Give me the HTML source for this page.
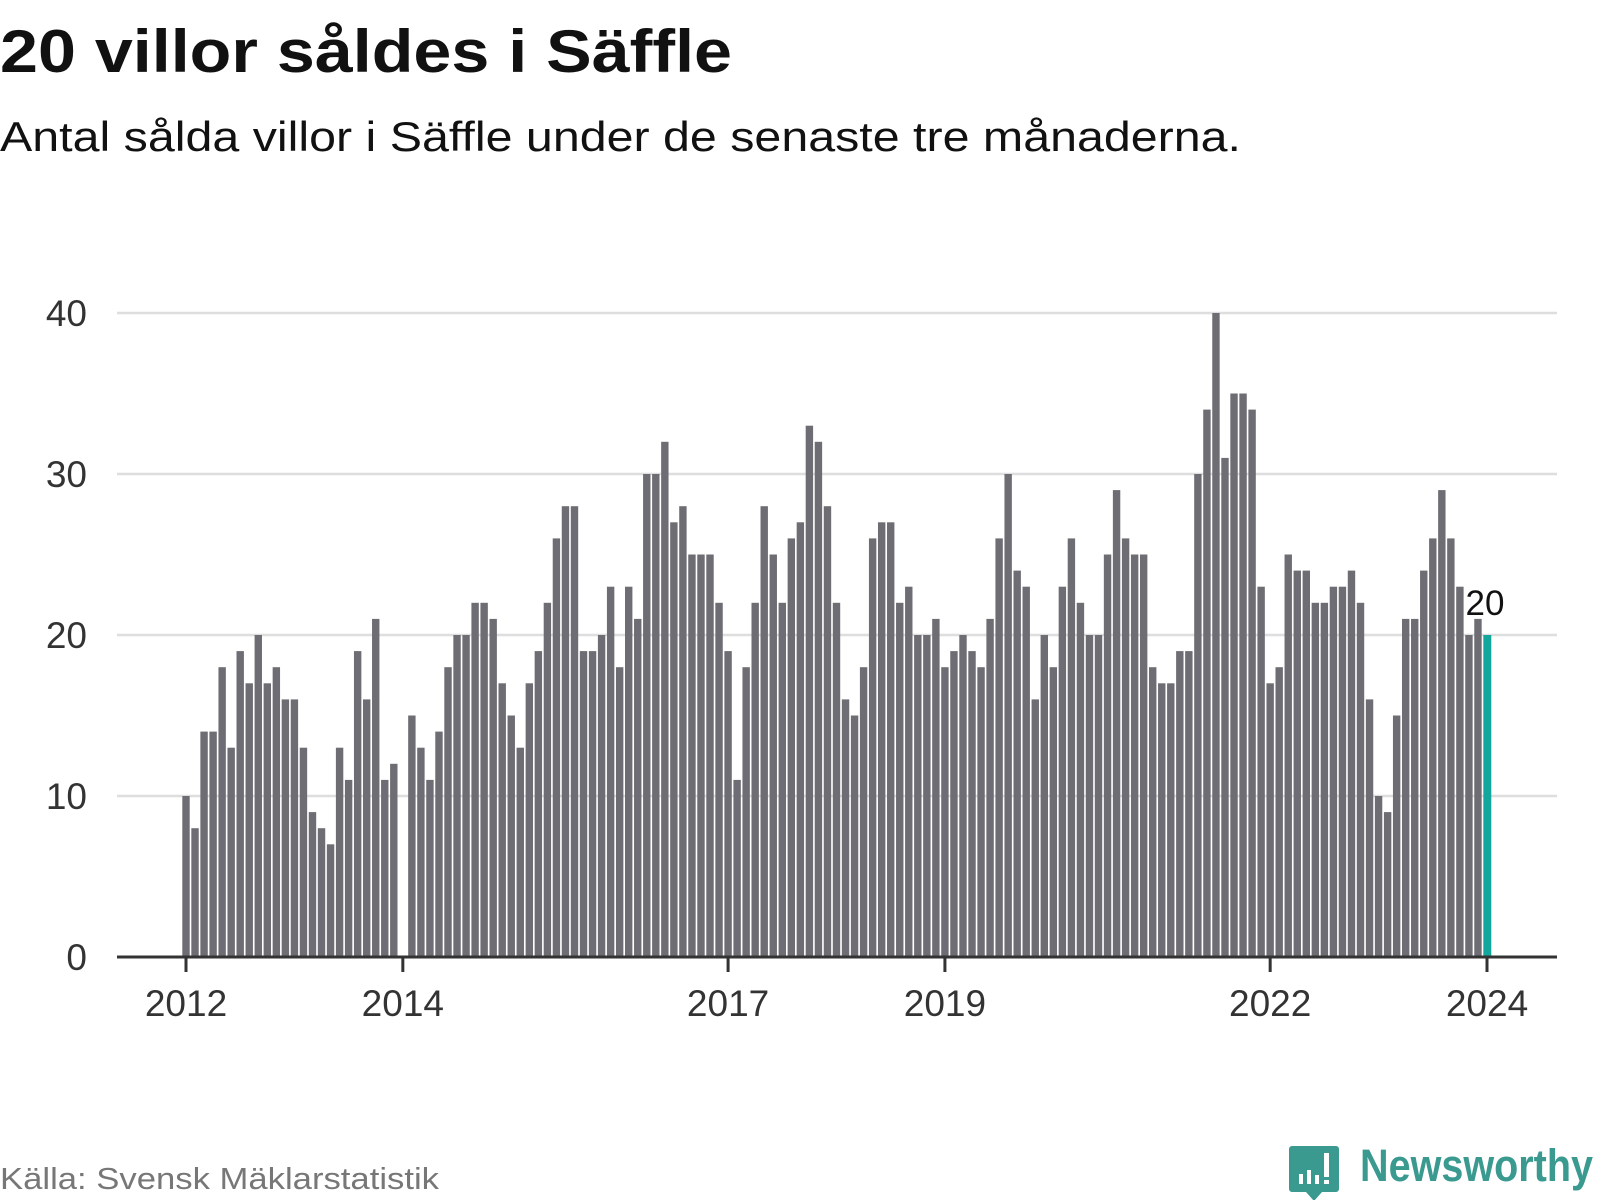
<!DOCTYPE html>
<html><head><meta charset="utf-8"><style>
html,body{margin:0;padding:0;background:#fff;}
svg{display:block;font-family:"Liberation Sans",sans-serif;}
</style></head><body>
<svg id="chart" width="1600" height="1200" viewBox="0 0 1600 1200">
<text x="0" y="72" font-size="60" font-weight="bold" fill="#111" textLength="732" lengthAdjust="spacingAndGlyphs">20 villor såldes i Säffle</text>
<text x="0" y="151" font-size="42" fill="#111" textLength="1241" lengthAdjust="spacingAndGlyphs">Antal sålda villor i Säffle under de senaste tre månaderna.</text>
<g id="grid"></g>
<g id="bars"></g>
<g id="axis"></g>
<text x="0" y="1189" font-size="31" fill="#777" textLength="439" lengthAdjust="spacingAndGlyphs">Källa: Svensk Mäklarstatistik</text>
<g>
<path d="M1292 1146 h44 a3 3 0 0 1 3 3 v40 a3 3 0 0 1 -3 3 h-14 l-8 9 l-8 -9 h-14 a3 3 0 0 1 -3 -3 v-40 a3 3 0 0 1 3 -3z" fill="#3a9a8f"/>
<rect x="1299" y="1174" width="4" height="10" fill="#fff"/><rect x="1307" y="1170" width="4" height="14" fill="#fff"/><rect x="1315" y="1175" width="4" height="9" fill="#fff"/><rect x="1324" y="1153" width="5" height="24" fill="#fff"/><rect x="1324" y="1180" width="5" height="4" fill="#fff"/>
<text x="1360" y="1181" font-size="45" font-weight="bold" fill="#3a9a8f" textLength="233" lengthAdjust="spacingAndGlyphs">Newsworthy</text>
</g>
</svg>
<script>
const values = [
10,8,14,14,18,13,19,17,20,17,18,16,
16,13,9,8,7,13,11,19,16,21,11,12,
0,15,13,11,14,18,20,20,22,22,21,17,
15,13,17,19,22,26,28,28,19,19,20,23,
18,23,21,30,30,32,27,28,25,25,25,22,
19,11,18,22,28,25,22,26,27,33,32,28,
22,16,15,18,26,27,27,22,23,20,20,21,
18,19,20,19,18,21,26,30,24,23,16,20,
18,23,26,22,20,20,25,29,26,25,25,18,
17,17,19,19,30,34,40,31,35,35,34,23,
17,18,25,24,24,22,22,23,23,24,22,16,
10,9,15,21,21,24,26,29,26,23,20,21,
20];
const startYear = 2012;
const yTicks = [0,10,20,30,40];
const xTickYears = [2012,2014,2017,2019,2022,2024];

const NS="http://www.w3.org/2000/svg";
const x0=186, x1=1487, y0=957, y40=313, left=117, right=1557;
const n=values.length;
function xScale(i){return x0+(x1-x0)*i/(n-1);}
function yScale(v){return y0-(y0-y40)*v/40;}
function mk(tag,attrs,parent){const e=document.createElementNS(NS,tag);for(const k in attrs)e.setAttribute(k,attrs[k]);parent.appendChild(e);return e;}
const grid=document.getElementById('grid'), bars=document.getElementById('bars'), axis=document.getElementById('axis');
yTicks.forEach(t=>{
  if(t>0){const l=mk('line',{x1:left,x2:right,y1:yScale(t),y2:yScale(t),stroke:'#dedede','stroke-width':2.5},grid);
  
  }
  const tx=mk('text',{x:87,y:yScale(t)+13,'font-size':37,fill:'#333','text-anchor':'end'},grid);
  tx.textContent=t;
  
  
});
const bw=7.4;
values.forEach((v,i)=>{
  const last=i===n-1;
  const r=mk('rect',{x:xScale(i)-bw/2,y:yScale(v),width:last?8:bw,height:y0-yScale(v),fill:last?'#13a69c':'#6e6d73'},bars);
  
  
});
const lab=mk('text',{x:xScale(n-1)-2,y:yScale(values[n-1])-20,'font-size':35,fill:'#111','text-anchor':'middle',stroke:'#fff','stroke-width':3,'paint-order':'stroke'},bars);
lab.textContent=values[n-1];


const base=mk('line',{x1:left,x2:right,y1:y0,y2:y0,stroke:'#333','stroke-width':3},axis);


xTickYears.forEach(yr=>{
  const i=(yr-startYear)*12;
  const tk=mk('line',{x1:xScale(i),x2:xScale(i),y1:y0,y2:y0+15,stroke:'#333','stroke-width':3},axis);
  
  
  const t=mk('text',{x:xScale(i),y:1016,'font-size':37,fill:'#333','text-anchor':'middle'},axis);
  t.textContent=yr;
  
  
});
</script>
</body></html>
